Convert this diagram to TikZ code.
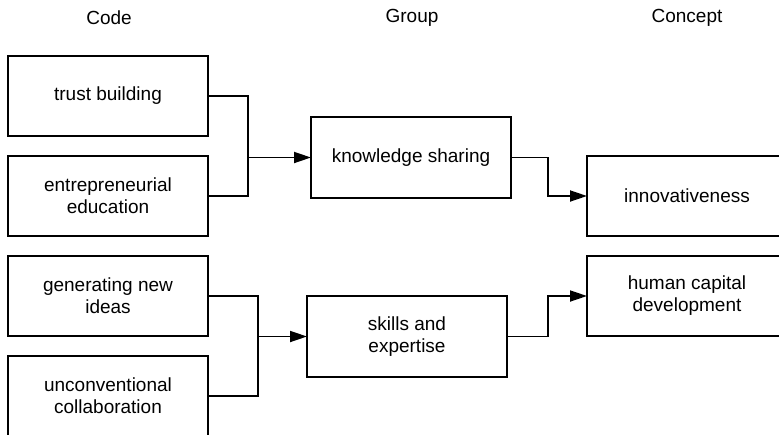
\documentclass[tikz,border=0pt]{standalone}
\usepackage{fontspec}
\setmainfont{Liberation Sans}
\usetikzlibrary{positioning,arrows.meta}

\begin{document}
\begin{tikzpicture}[x=1pt,y=-1pt,line width=1.8pt,
	font=\fontsize{19}{22}\selectfont,
	>={Triangle[length=17pt,width=11pt]},
	main/.style = {draw, rectangle, align=center, minimum width=200pt, minimum height=80pt, outer sep=0pt}]
	\useasboundingbox (0,0) rectangle (779,434);
	\clip (0,0) rectangle (779,434);
	% column titles
	\node (t1) at (109,18) {Code};
	\node (t2) at (412,18) {Group};
	\node (t3) at (687,18) {Concept};
	% codes
	\node[main] (c1) at (108,96) {trust building};
	\node[main] (c2) [below=20pt of c1] {entrepreneurial\\education};
	\node[main] (c3) [below=20pt of c2] {generating new\\ideas};
	\node[main] (c4) [below=20pt of c3] {unconventional\\collaboration};
	% groups
	\node[main, minimum height=81pt] (g1) at (411,157.5) {knowledge sharing};
	\node[main, minimum height=81pt] (g2) at (407,336.5) {skills and\\expertise};
	% concepts
	\node[main] (k1) at (687,196) {innovativeness};
	\node[main] (k2) [below=20pt of k1] {human capital\\development};
	
	\coordinate (j1) at (248,157.5);
	\coordinate (j2) at (258,336.5);
	\draw (c1.east) -| (j1) |- (c2.east);
	\draw[->] (j1) -- (g1.west);
	\draw (c3.east) -| (j2) |- (c4.east);
	\draw[->] (j2) -- (g2.west);
	\draw[->] (g1.east) -- ++(37,0) |- (k1.west);
	\draw[->] (g2.east) -- ++(41,0) |- (k2.west);
\end{tikzpicture}
\end{document}
